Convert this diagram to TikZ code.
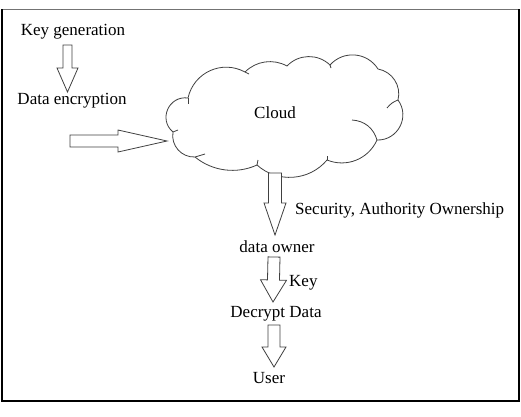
\documentclass[tikz,border=0pt]{standalone}
\usepackage{fontspec}
\setmainfont{Liberation Serif}
\usetikzlibrary{calc}
\newcommand{\blockarrow}[5]{% from, to, shaft half width, head half width, head length
  \draw[blockarr] ($(#1)!#3!90:(#2)$)
    -- ($($(#2)!#5!(#1)$)!#3!-90:(#1)$)
    -- ($($(#2)!#5!(#1)$)!#4!-90:(#1)$)
    -- (#2)
    -- ($($(#2)!#5!(#1)$)!#4!90:(#1)$)
    -- ($($(#2)!#5!(#1)$)!#3!90:(#1)$)
    -- ($(#1)!#3!-90:(#2)$) -- cycle;}
\begin{document}
\begin{tikzpicture}[x=1pt,y=-1pt,
  lbl/.style={inner sep=0pt,font=\fontsize{17}{20}\selectfont},
  blockarr/.style={draw=black!75,line width=0.8pt,fill=white,line join=miter},
  cloudline/.style={draw=black!75,line width=0.8pt}]
\useasboundingbox (0,0) rectangle (521,416);
% frame
\draw[black!55,line width=0.8pt] (2,9) -- (519,9);
\draw[black,line width=1.6pt] (519,9) -- (519,401) -- (2,401) -- (2,9);
% cloud outline
\coordinate (c1) at (173,132);  \coordinate (c2) at (188,98);
\coordinate (c3) at (245,72);   \coordinate (c4) at (287,66);
\coordinate (c5) at (330,65);   \coordinate (c6) at (378,69);
\coordinate (c7) at (398,100);  \coordinate (c8) at (377,140);
\coordinate (c9) at (327,160);  \coordinate (c10) at (257,165);
\coordinate (c11) at (195,157);
\draw[cloudline,fill=white] (c1)
  to[bend left=74,looseness=1.34] (c2)
  to[bend left=53,looseness=1.07] (c3)
  to[bend left=37,looseness=0.95] (c4)
  to[bend left=45,looseness=1.0] (c5)
  to[bend left=53,looseness=1.07] (c6)
  to[bend left=47,looseness=1.01] (c7)
  to[bend left=64,looseness=1.18] (c8)
  to[bend left=44,looseness=1.0] (c9)
  to[bend left=46,looseness=1.0] (c10)
  to[bend left=32,looseness=0.92] (c11)
  to[bend left=51,looseness=1.05] (c1) -- cycle;
% inner strokes of the cloud
\draw[cloudline] (352,120) to[bend left=35] (c8);
\draw[cloudline] (c7) to[bend right=15] (387,108);
\draw[cloudline] (c2) -- (188,104);
\draw[cloudline] (c1) -- (178,130);
\draw[cloudline] (c11) -- (205,154);
\draw[cloudline] (c10) -- (258,160);
\draw[cloudline] (c9) -- (327,156);
\draw[cloudline] (c3) -- (249,74);
\draw[cloudline] (c5) -- (331,68);
% nodes
\node[lbl] (kg) at (73,32) {Key generation};
\node[lbl] (de) at (72,101) {Data encryption};
\node[lbl] (clt) at (275,113) {Cloud};
\node[lbl,anchor=west] (sec) at (295,210) {Security, Authority Ownership};
\node[lbl] (do) at (277,247) {data owner};
\node[lbl,anchor=west] (key) at (289,283) {Key};
\node[lbl] (dd) at (276,314) {Decrypt Data};
\node[lbl] (us) at (269,378) {User};
% arrow end points
\coordinate (a1s) at (67.5,45);  \coordinate (a1e) at (67.5,92);
\coordinate (a2s) at (70,141);   \coordinate (a2e) at (167,141);
\coordinate (a3s) at (275,173);  \coordinate (a3e) at (275,235);
\coordinate (a4s) at (274,257);  \coordinate (a4e) at (273,302);
\coordinate (a5s) at (274,325);  \coordinate (a5e) at (274,367);
\blockarrow{a1s}{a1e}{4.5pt}{10.5pt}{24pt}
\blockarrow{a2s}{a2e}{6pt}{11pt}{49pt}
\blockarrow{a3s}{a3e}{6.5pt}{11pt}{32pt}
\blockarrow{a4s}{a4e}{6pt}{13pt}{22pt}
\blockarrow{a5s}{a5e}{6pt}{12pt}{20pt}
\end{tikzpicture}
\end{document}
